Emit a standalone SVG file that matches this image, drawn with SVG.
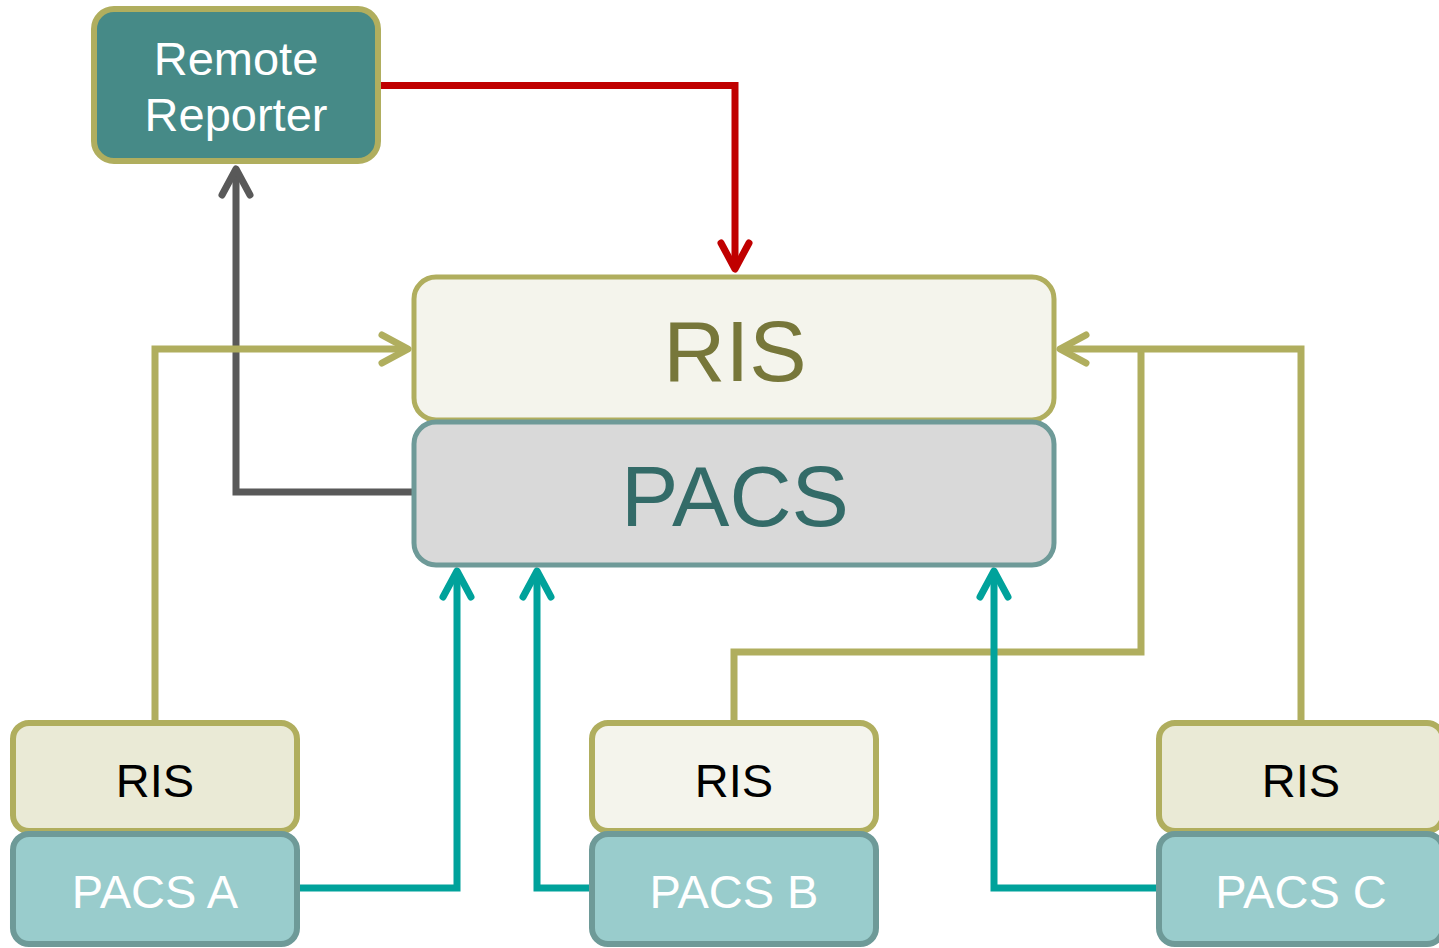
<svg xmlns="http://www.w3.org/2000/svg" width="1439" height="948" viewBox="0 0 1439 948">
<style>
text{font-family:"Liberation Sans",Arial,sans-serif;text-anchor:middle}
.c{fill:none;stroke-width:7;stroke-linejoin:miter}
.ol{stroke:#b0ae5e}.tl{stroke:#00a29b}.rd{stroke:#c00000}.gy{stroke:#595959}
.rr{fill:#468a87;stroke:#b0ae5e;stroke-width:6}
.bris{fill:#f4f4ec;stroke:#b0ae5e;stroke-width:5}
.bpacs{fill:#d9d9d9;stroke:#6e9a98;stroke-width:5}
.sris{fill:#eaead6;stroke:#b0ae5e;stroke-width:6}
.sris2{fill:#f4f4ec;stroke:#b0ae5e;stroke-width:6}
.spacs{fill:#99cccc;stroke:#6e9a98;stroke-width:6}
</style>
<defs>
<marker id="aol" markerUnits="userSpaceOnUse" markerWidth="44" markerHeight="44" viewBox="-36 -22 44 44" refX="0" refY="0" orient="auto"><path d="M-26-14L0 0L-26 14" fill="none" stroke="#b0ae5e" stroke-width="7" stroke-linecap="round" stroke-linejoin="round"/></marker>
<marker id="atl" markerUnits="userSpaceOnUse" markerWidth="44" markerHeight="44" viewBox="-36 -22 44 44" refX="0" refY="0" orient="auto"><path d="M-26-14L0 0L-26 14" fill="none" stroke="#00a29b" stroke-width="7" stroke-linecap="round" stroke-linejoin="round"/></marker>
<marker id="ard" markerUnits="userSpaceOnUse" markerWidth="44" markerHeight="44" viewBox="-36 -22 44 44" refX="0" refY="0" orient="auto"><path d="M-26-14L0 0L-26 14" fill="none" stroke="#c00000" stroke-width="7" stroke-linecap="round" stroke-linejoin="round"/></marker>
<marker id="agy" markerUnits="userSpaceOnUse" markerWidth="44" markerHeight="44" viewBox="-36 -22 44 44" refX="0" refY="0" orient="auto"><path d="M-26-14L0 0L-26 14" fill="none" stroke="#595959" stroke-width="7" stroke-linecap="round" stroke-linejoin="round"/></marker>
</defs>
<g id="connectors">
<path class="c rd" d="M378 85.5H735V269" marker-end="url(#ard)"/>
<path class="c gy" d="M413 492H236V169" marker-end="url(#agy)"/>
<path class="c ol" d="M155 722V349H408" marker-end="url(#aol)"/>
<path class="c ol" d="M1301 722V349H1060" marker-end="url(#aol)"/>
<path class="c ol" d="M734 722V652H1141V349"/>
<path class="c tl" d="M297 888H457V571" marker-end="url(#atl)"/>
<path class="c tl" d="M592 888H537V571" marker-end="url(#atl)"/>
<path class="c tl" d="M1158 888H994V571" marker-end="url(#atl)"/>
</g>
<g id="remote-reporter">
<rect class="rr" x="94" y="9" width="284" height="152" rx="20"/>
<text x="236" y="75" font-size="47" fill="#ffffff">Remote</text>
<text x="236" y="131" font-size="47" fill="#ffffff">Reporter</text>
</g>
<g id="ris-main">
<rect class="bris" x="414" y="277" width="640" height="143" rx="22"/>
<text x="735" y="381" font-size="86" fill="#77773a">RIS</text>
</g>
<g id="pacs-main">
<rect class="bpacs" x="414" y="422" width="640" height="143" rx="22"/>
<text x="735" y="526" font-size="86" fill="#336b68">PACS</text>
</g>
<g id="ris-a">
<rect class="sris" x="13" y="723" width="284" height="108" rx="16"/>
<text x="155" y="797" font-size="47" fill="#000000">RIS</text>
</g>
<g id="pacs-a">
<rect class="spacs" x="13" y="834" width="284" height="110" rx="16"/>
<text x="155" y="908" font-size="47" fill="#ffffff">PACS A</text>
</g>
<g id="ris-b">
<rect class="sris2" x="592" y="723" width="284" height="108" rx="16"/>
<text x="734" y="797" font-size="47" fill="#000000">RIS</text>
</g>
<g id="pacs-b">
<rect class="spacs" x="592" y="834" width="284" height="110" rx="16"/>
<text x="734" y="908" font-size="47" fill="#ffffff">PACS B</text>
</g>
<g id="ris-c">
<rect class="sris" x="1159" y="723" width="284" height="108" rx="16"/>
<text x="1301" y="797" font-size="47" fill="#000000">RIS</text>
</g>
<g id="pacs-c">
<rect class="spacs" x="1159" y="834" width="284" height="110" rx="16"/>
<text x="1301" y="908" font-size="47" fill="#ffffff">PACS C</text>
</g>
</svg>
